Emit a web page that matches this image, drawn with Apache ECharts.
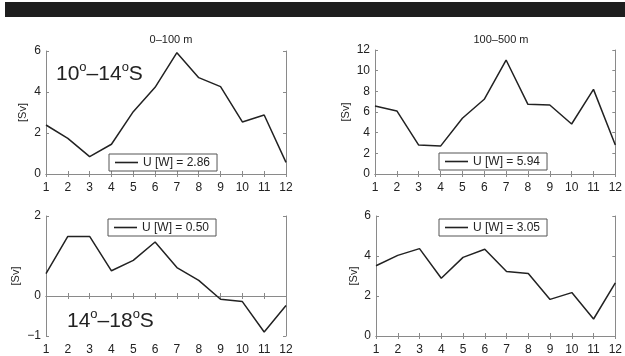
<!DOCTYPE html>
<html lang="en">

<head>
    <meta charset="UTF-8">
    <title>Transport</title>
    <style>
        html, body { margin: 0; padding: 0; background: #fff; }
        .div { width: 625px; height: 356px; }
    </style>
</head>

<body>
    <div class="div"></div>
</body>
<script src="https://cdn.jsdelivr.net/npm/echarts@6/dist/echarts.min.js"></script>

<script>
    // months along x
    var months = [1, 2, 3, 4, 5, 6, 7, 8, 9, 10, 11, 12];
    var layerNames = ['0\u2013100 m', '100\u2013500 m'];
    // transports [Sv]
    var top0to100 = [2.39, 1.74, 0.85, 1.45, 3.04, 4.23, 5.92, 4.70, 4.26, 2.54, 2.88, 0.57];
    var top100to500 = [6.58, 6.10, 2.80, 2.70, 5.40, 7.23, 11.03, 6.74, 6.68, 4.84, 8.19, 2.80];
    var bot0to100 = [0.56, 1.49, 1.49, 0.63, 0.89, 1.35, 0.71, 0.39, -0.08, -0.14, -0.90, -0.24];
    var bot100to500 = [3.51, 4.03, 4.37, 2.89, 3.93, 4.34, 3.23, 3.12, 1.83, 2.17, 0.85, 2.66];
    var legendNames = ['U [W] = 2.86', 'U [W] = 5.94', 'U [W] = 0.50', 'U [W] = 3.05'];
    // y tick values per panel
    var yTicks1 = [0, 2, 4, 6];
    var yTicks2 = [0, 2, 4, 6, 8, 10, 12];
    var yTicks3 = [-1, 0, 2];
    var yTicks4 = [0, 2, 4, 6];

    var font = 'Liberation Sans, Arial, sans-serif';
    var frame = '#8a8a8a';
    var ink = '#222';

    var panels = [
        { grid: { left: 46, top: 51, width: 240, height: 123 }, data: top0to100, ticks: yTicks1, nameGap: 18, legend: [109, 154] },
        { grid: { left: 375, top: 50, width: 242, height: 124 }, data: top100to500, ticks: yTicks2, nameGap: 24, legend: [439, 153] },
        { grid: { left: 46, top: 216, width: 240, height: 122 }, data: bot0to100, ticks: yTicks3, nameGap: 25, legend: [108, 219] },
        { grid: { left: 376, top: 216, width: 241, height: 122 }, data: bot100to500, ticks: yTicks4, nameGap: 17, legend: [439, 219] }
    ];

    function fmt(v) {
        return String(v).replace('-', '\u2212');
    }

    var grids = [], xAxes = [], yAxes = [], series = [], legends = [];
    panels.forEach(function (p, i) {
        grids.push(p.grid);
        var lo = p.ticks[0], hi = p.ticks[p.ticks.length - 1];
        ['bottom', 'top'].forEach(function (pos) {
            xAxes.push({
                type: 'value', gridIndex: i, position: pos,
                min: 1, max: 12, interval: 1,
                axisLine: { show: true, lineStyle: { color: frame, width: 1 } },
                axisTick: { show: true, inside: true, length: 3, lineStyle: { color: frame } },
                axisLabel: { show: pos === 'bottom', margin: 8, color: ink, fontSize: 12, fontFamily: font },
                splitLine: { show: false }
            });
        });
        ['left', 'right'].forEach(function (pos) {
            yAxes.push({
                type: 'value', gridIndex: i, position: pos,
                min: lo, max: hi,
                name: pos === 'left' ? '[Sv]' : '',
                nameLocation: 'middle', nameGap: p.nameGap,
                nameTextStyle: { color: ink, fontSize: 11, fontFamily: font },
                axisLine: { show: true, lineStyle: { color: frame, width: 1 } },
                axisTick: { show: true, inside: true, length: 3, customValues: p.ticks, lineStyle: { color: frame } },
                axisLabel: { show: pos === 'left', margin: 5, color: ink, fontSize: 12, fontFamily: font, customValues: p.ticks, formatter: fmt },
                splitLine: { show: false }
            });
        });
        series.push({
            name: legendNames[i],
            type: 'line',
            xAxisIndex: i * 2, yAxisIndex: i * 2,
            symbol: 'none',
            lineStyle: { color: ink, width: 1.5 },
            itemStyle: { color: ink },
            data: months.map(function (m, k) { return [m, p.data[k]]; })
        });
        legends.push({
            data: [{ name: legendNames[i], icon: 'rect' }],
            left: p.legend[0], top: p.legend[1],
            orient: 'horizontal',
            padding: [2, 7, 2, 6],
            itemWidth: 23, itemHeight: 1.6, itemGap: 0,
            borderColor: '#555', borderWidth: 1,
            backgroundColor: '#fff',
            textStyle: { color: ink, fontSize: 12, fontFamily: font, lineHeight: 13 }
        });
    });

    // superscript "o" is pushed up with bottom padding
    var regionRich = {
        n: { fontSize: 21, fontFamily: font, fontWeight: 'normal', color: ink },
        s: { fontSize: 13, fontFamily: font, fontWeight: 'normal', color: ink, padding: [0, 0, 14, 0] }
    };

    var mChart = echarts.init(document.getElementsByClassName('div')[0], null, { renderer: 'canvas' });
    var option = {
        backgroundColor: '#fff',
        animation: false,
        title: [
            { text: layerNames[0], left: 166, top: 29, textAlign: 'center', textStyle: { color: ink, fontSize: 11, fontWeight: 'normal', fontFamily: font } },
            { text: layerNames[1], left: 496, top: 29, textAlign: 'center', textStyle: { color: ink, fontSize: 11, fontWeight: 'normal', fontFamily: font } },
            { text: '{n|10}{s|o}{n|\u201314}{s|o}{n|S}', left: 56, top: 61, padding: 0, textStyle: { fontWeight: 'normal', rich: regionRich } },
            { text: '{n|14}{s|o}{n|\u201318}{s|o}{n|S}', left: 67, top: 308, padding: 0, textStyle: { fontWeight: 'normal', rich: regionRich } }
        ],
        graphic: [
            { type: 'rect', shape: { x: 5, y: 2, width: 620, height: 15 }, style: { fill: '#1e1e1e' } }
        ],
        legend: legends,
        grid: grids,
        xAxis: xAxes,
        yAxis: yAxes,
        series: series
    };

    mChart.setOption(option);

</script>

</html>
